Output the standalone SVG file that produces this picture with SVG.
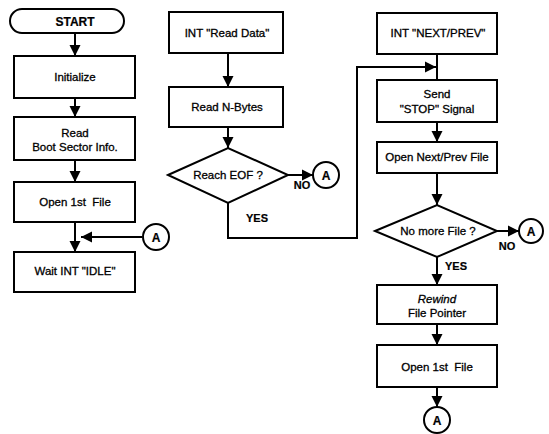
<svg xmlns="http://www.w3.org/2000/svg" width="549" height="434" viewBox="0 0 549 434">
<defs>
<marker id="ah" markerUnits="userSpaceOnUse" markerWidth="12" markerHeight="12" viewBox="0 0 12 12" refX="11" refY="6" orient="auto">
<path d="M0,0.5 L11,6 L0,11.5 Z" fill="#000"/>
</marker>
<style>
rect,circle{fill:#fff;stroke:#000;stroke-width:2}
polygon{fill:#fff;stroke:#000;stroke-width:2;stroke-linejoin:miter}
.c line,.c polyline{stroke:#000;stroke-width:2;fill:none}
text{font-family:"Liberation Sans",Arial,sans-serif;font-size:11.5px;fill:#000;text-anchor:middle;stroke:#000;stroke-width:0.3}
.b{font-weight:bold;font-size:12px;stroke-width:0.2}
.i{font-style:italic}
</style>
</defs>
<rect width="549" height="434" style="fill:#fff;stroke:none"/>
<g class="c" id="connectors">
<line x1="75" y1="33" x2="75" y2="56" marker-end="url(#ah)"/>
<line x1="75" y1="98" x2="75" y2="117" marker-end="url(#ah)"/>
<line x1="75" y1="160" x2="75" y2="182" marker-end="url(#ah)"/>
<line x1="75" y1="222" x2="75" y2="252" marker-end="url(#ah)"/>
<line x1="142" y1="237" x2="81" y2="237" marker-end="url(#ah)"/>
<line x1="228" y1="53" x2="228" y2="87" marker-end="url(#ah)"/>
<line x1="228" y1="127" x2="228" y2="148" marker-end="url(#ah)"/>
<line x1="288" y1="175" x2="313" y2="175" marker-end="url(#ah)"/>
<polyline points="228,203 228,238 357,238 357,67 436,67" marker-end="url(#ah)"/>
<line x1="437" y1="54" x2="437" y2="80"/>
<line x1="437" y1="122" x2="437" y2="142" marker-end="url(#ah)"/>
<line x1="437" y1="173" x2="437" y2="205" marker-end="url(#ah)"/>
<line x1="497" y1="231" x2="519" y2="231" marker-end="url(#ah)"/>
<line x1="437" y1="257" x2="437" y2="285" marker-end="url(#ah)"/>
<line x1="437" y1="324" x2="437" y2="345" marker-end="url(#ah)"/>
<line x1="437" y1="387" x2="437" y2="407" marker-end="url(#ah)"/>
<text x="302" y="189" class="b" style="font-size:11px">NO</text>
<text x="257" y="222" class="b" style="font-size:11px">YES</text>
<text x="507" y="250" class="b" style="font-size:11px">NO</text>
<text x="456" y="270" class="b" style="font-size:11px">YES</text>
</g>
<g id="start"><rect x="10" y="9" width="114" height="24" rx="12" ry="12"/><text x="75" y="25.5" class="b">START</text></g>
<g id="initialize"><rect x="14" y="56" width="121" height="42"/><text x="75" y="81">Initialize</text></g>
<g id="readboot"><rect x="14" y="117" width="121" height="43"/><text x="75" y="137">Read</text><text x="75" y="151">Boot Sector Info.</text></g>
<g id="open1"><rect x="14" y="182" width="121" height="40"/><text x="75" y="206" xml:space="preserve">Open 1st  File</text></g>
<g id="connA1"><circle cx="156" cy="237" r="13"/><text x="156" y="241.5" class="b">A</text></g>
<g id="wait"><rect x="14" y="252" width="121" height="40"/><text x="75" y="275">Wait INT "IDLE"</text></g>
<g id="intread"><rect x="169" y="12" width="114" height="41"/><text x="227" y="37">INT "Read Data"</text></g>
<g id="readn"><rect x="169" y="87" width="114" height="40"/><text x="227" y="111">Read N-Bytes</text></g>
<g id="eof"><polygon points="168,175 228,148 288,175 228,203"/><text x="228" y="179">Reach EOF ?</text></g>
<g id="connA2"><circle cx="326" cy="175" r="13"/><text x="326" y="179.5" class="b">A</text></g>
<g id="intnext"><rect x="377" y="13" width="120" height="41"/><text x="438" y="37">INT "NEXT/PREV"</text></g>
<g id="sendstop"><rect x="377" y="80" width="120" height="42"/><text x="437" y="98">Send</text><text x="437" y="113">"STOP" Signal</text></g>
<g id="opennext"><rect x="377" y="142" width="120" height="31"/><text x="437" y="161">Open Next/Prev File</text></g>
<g id="nomore"><polygon points="375,231 437,205 497,231 437,257"/><text x="438" y="235">No more File ?</text></g>
<g id="connA3"><circle cx="531" cy="231" r="12"/><text x="531" y="235.5" class="b">A</text></g>
<g id="rewind"><rect x="377" y="285" width="120" height="39"/><text x="437" y="303" class="i">Rewind</text><text x="437" y="317">File Pointer</text></g>
<g id="open1b"><rect x="377" y="345" width="120" height="42"/><text x="437" y="371" xml:space="preserve">Open 1st  File</text></g>
<g id="connA4"><circle cx="437" cy="420" r="13"/><text x="437" y="424.5" class="b">A</text></g>
</svg>
